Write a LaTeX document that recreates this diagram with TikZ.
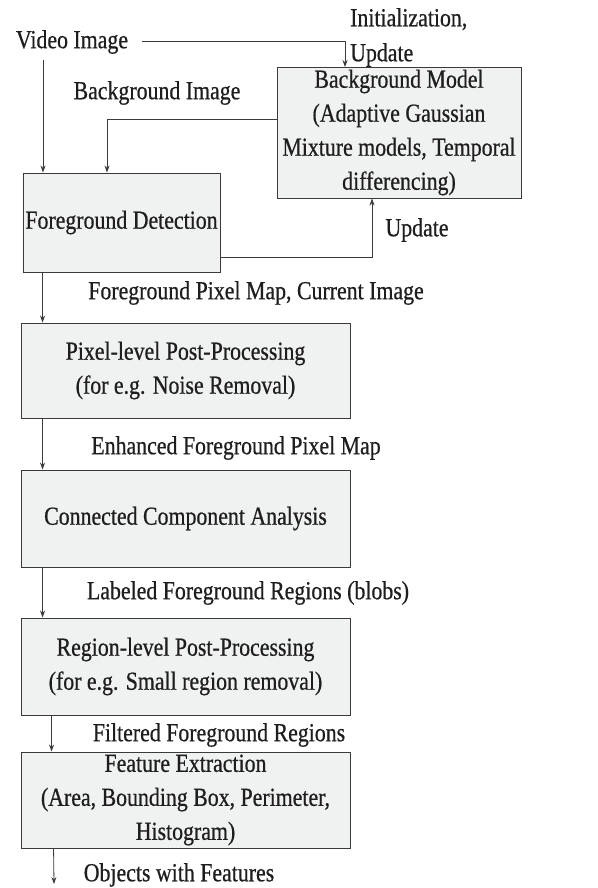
\documentclass[tikz,border=0pt]{standalone}
\usepackage{fontspec}
\setmainfont{Liberation Serif}[FakeStretch=0.84, FakeBold=0.6]
\usetikzlibrary{arrows.meta,calc}
\definecolor{boxfill}{HTML}{F0F1F1}
\definecolor{linecol}{HTML}{3A3A3A}
\definecolor{txtcol}{HTML}{1E1E1E}
\tikzset{
  box/.style={draw=linecol, line width=0.9pt, fill=boxfill, inner sep=0pt, align=center,
              text=txtcol, font=\fontsize{26}{34}\selectfont},
  lbl/.style={inner sep=0pt, text=txtcol, font=\fontsize{26}{34}\selectfont},
  arr/.style={draw=linecol, line width=0.8pt, -{Stealth[length=7pt,width=5pt]}},
  ln/.style={draw=linecol, line width=0.8pt}
}
\begin{document}
\begin{tikzpicture}[x=1pt,y=-1pt]
\useasboundingbox (0,0) rectangle (597,888);
% boxes
\node[box, minimum width=244pt, minimum height=131pt] (bgm) at (399,132.5)
  {Background Model\\(Adaptive Gaussian\\Mixture models, Temporal\\differencing)};
\node[box, minimum width=197pt, minimum height=99pt] (fd) at (121.5,222.5) {Foreground Detection};
\node[box, minimum width=329pt, minimum height=95pt] (plp) at (185.5,370.5)
  {Pixel-level Post-Processing\\(for e.g. Noise Removal)};
\node[box, minimum width=329pt, minimum height=97pt] (cca) at (185.5,518.5) {Connected Component Analysis};
\node[box, minimum width=329pt, minimum height=97pt] (rlp) at (185.5,666.5)
  {Region-level Post-Processing\\(for e.g. Small region removal)};
\node[box, minimum width=329pt, minimum height=96pt] (fe) at (185.5,800)
  {Feature Extraction\\(Area, Bounding Box, Perimeter,\\Histogram)};
% labels
\node[lbl] (vid) at (72,42) {Video Image};
\node[lbl, align=left, anchor=west, font=\fontsize{26}{35}\selectfont] (init) at (350,37.5) {Initialization,\\Update};
\node[lbl] (bgi) at (157,93) {Background Image};
\node[lbl] (upd) at (417,230) {Update};
\node[lbl] (l1) at (256,293) {Foreground Pixel Map, Current Image};
\node[lbl] (l2) at (236,448) {Enhanced Foreground Pixel Map};
\node[lbl] (l3) at (248,593) {Labeled Foreground Regions (blobs)};
\node[lbl] (l4) at (219,735) {Filtered Foreground Regions};
\node[lbl] (l5) at (179,875) {Objects with Features};
% coordinates
\coordinate (vidr) at (142,41);
\coordinate (vidd) at (43,60);
\coordinate (bgin) at (345,67);
\coordinate (outend) at (54,884);
% connectors
\draw[arr] (vidr) -| (bgin);
\draw[arr] (vidd) -- (vidd |- fd.north);
\draw[arr] ([yshift=13.5pt]bgm.west) -| ([xshift=-14.5pt]fd.north);
\draw[arr] ([yshift=-34.5pt]fd.east) -| ([xshift=-27pt]bgm.south);
\draw[arr] ([xshift=20pt]fd.south west) -- ([xshift=22pt]plp.north west);
\draw[arr] ([xshift=22pt]plp.south west) -- ([xshift=22pt]cca.north west);
\draw[arr] ([xshift=22pt]cca.south west) -- ([xshift=22pt]rlp.north west);
\draw[arr] ([xshift=31pt]rlp.south west) -- ([xshift=31pt]fe.north west);
\draw[arr] ([xshift=33pt]fe.south west) -- (outend);
\end{tikzpicture}
\end{document}
